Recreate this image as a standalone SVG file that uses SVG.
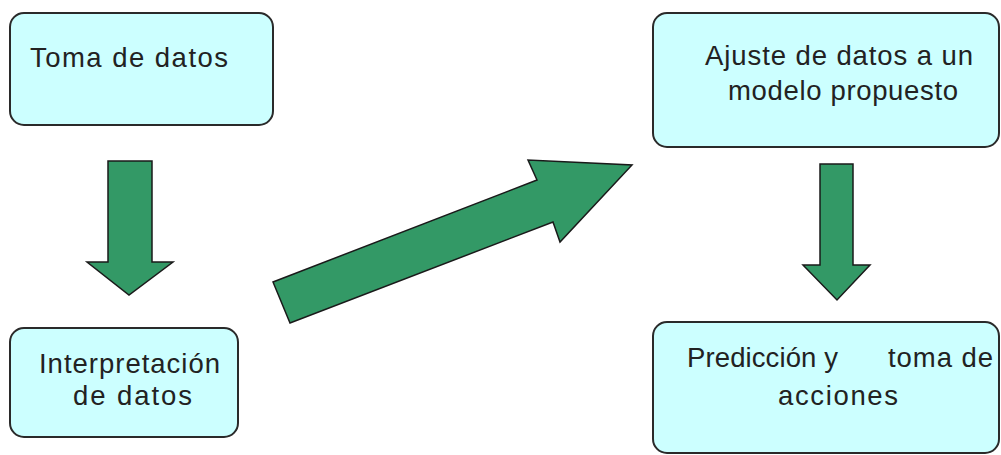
<svg xmlns="http://www.w3.org/2000/svg" width="1001" height="455" viewBox="0 0 1001 455">
<style>
.box{fill:#ccffff;stroke:#2a2a2a;stroke-width:2}
.arr{fill:#339966;stroke:#1a1a1a;stroke-width:1.5;stroke-linejoin:miter}
.t{font-family:"Liberation Sans",Arial,sans-serif;font-size:27.5px;fill:#222}
</style>
<rect width="1001" height="455" fill="#fff"/>
<g id="connectors">
<polygon class="arr" points="108,161 152,161 152,262 173,262 129,295 87,262 108,262"/>
<polygon class="arr" points="820,164 853,164 853,265 870,265 837,300 803,265 820,265"/>
<polygon class="arr" points="290,323 273,282 537,180 528,160 632,165 560,242 553,222"/>
</g>
<g id="n1">
<rect class="box" x="10" y="13" width="263" height="112" rx="14"/>
<text class="t" x="30" y="67" textLength="198" lengthAdjust="spacing">Toma de datos</text>
</g>
<g id="n2">
<rect class="box" x="10" y="328" width="228" height="109" rx="14"/>
<text class="t" x="39" y="373" textLength="181" lengthAdjust="spacing">Interpretación</text>
<text class="t" x="73" y="405" textLength="119" lengthAdjust="spacing">de datos</text>
</g>
<g id="n3">
<rect class="box" x="653" y="13" width="346" height="134" rx="14"/>
<text class="t" x="705" y="65" textLength="268" lengthAdjust="spacing">Ajuste de datos a un</text>
<text class="t" x="728" y="100" textLength="230" lengthAdjust="spacing">modelo propuesto</text>
</g>
<g id="n4">
<rect class="box" x="653" y="322" width="346" height="131" rx="14"/>
<text class="t" x="687" y="367" textLength="151" lengthAdjust="spacing">Predicción y</text>
<text class="t" x="888" y="367" textLength="105" lengthAdjust="spacing">toma de</text>
<text class="t" x="778" y="405" textLength="120" lengthAdjust="spacing">acciones</text>
</g>
</svg>
